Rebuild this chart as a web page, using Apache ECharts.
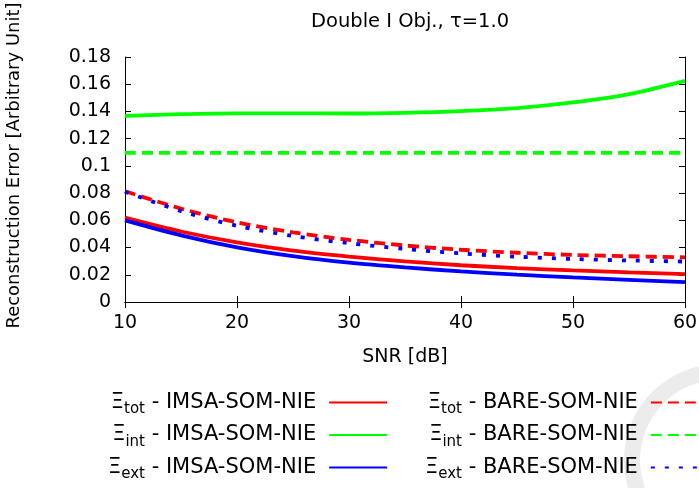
<!DOCTYPE html>
<html><head><meta charset="utf-8">
<script src="https://cdn.jsdelivr.net/npm/echarts@6/dist/echarts.min.js"></script>
<style>html,body{margin:0;padding:0;background:#fff}#c{width:699px;height:488px}</style>
</head><body><div id="c"></div>
<script>
// SNR [dB]
const snr = [10, 15, 20, 25, 30, 35, 40, 45, 50, 55, 60];
// Xi_tot / Xi_int / Xi_ext for IMSA-SOM-NIE
const totIMSA = [0.0620, 0.0518, 0.0438, 0.0378, 0.0334, 0.0298, 0.0270, 0.0249, 0.0232, 0.0218, 0.0205];
const intIMSA = [0.1368, 0.1380, 0.1386, 0.1386, 0.1385, 0.1390, 0.1402, 0.1424, 0.1466, 0.1527, 0.1625];
const extIMSA = [0.0600, 0.0490, 0.0402, 0.0337, 0.0289, 0.0254, 0.0225, 0.0201, 0.0181, 0.0163, 0.0146];
// Xi_tot / Xi_int / Xi_ext for BARE-SOM-NIE
const totBARE = [0.0814, 0.0686, 0.0585, 0.0512, 0.0457, 0.0415, 0.0384, 0.0362, 0.0346, 0.0336, 0.0328];
const intBARE = [0.1095, 0.1095, 0.1095, 0.1095, 0.1095, 0.1095, 0.1095, 0.1095, 0.1095, 0.1095, 0.1095];
const extBARE = [0.0810, 0.0668, 0.0560, 0.0485, 0.0432, 0.0390, 0.0357, 0.0333, 0.0316, 0.0305, 0.0297];
const yTicks = [0, 0.02, 0.04, 0.06, 0.08, 0.1, 0.12, 0.14, 0.16, 0.18];

const F = 'DejaVu Sans';
const pairs = v => snr.map((x, i) => [x, v[i]]);
const seriesDefs = [
  {key: 'tot-IMSA', sub: 'tot', meth: 'IMSA-SOM-NIE', data: totIMSA, color: '#ff0000', type: 'solid'},
  {key: 'int-IMSA', sub: 'int', meth: 'IMSA-SOM-NIE', data: intIMSA, color: '#00ff00', type: 'solid'},
  {key: 'ext-IMSA', sub: 'ext', meth: 'IMSA-SOM-NIE', data: extIMSA, color: '#0000ff', type: 'solid'},
  {key: 'tot-BARE', sub: 'tot', meth: 'BARE-SOM-NIE', data: totBARE, color: '#ff0000', type: [11, 6]},
  {key: 'int-BARE', sub: 'int', meth: 'BARE-SOM-NIE', data: intBARE, color: '#00ff00', type: [11, 6]},
  {key: 'ext-BARE', sub: 'ext', meth: 'BARE-SOM-NIE', data: extBARE, color: '#0000ff', type: [4, 10]}
];
const lookup = {};
seriesDefs.forEach(d => lookup[d.key] = d);
const fmt = name => '{m|Ξ}{s|' + lookup[name].sub + '}{m| - ' + lookup[name].meth + '}{g|}';
const rich = {
  m: {fontFamily: F, fontSize: 21, lineHeight: 22, color: '#000'},
  s: {fontFamily: F, fontSize: 15, lineHeight: 14, padding: [14, 0, 0, 0], color: '#000'},
  g: {width: 8}
};
const legendBase = {
  orient: 'vertical', align: 'right', itemWidth: 58, itemHeight: 14, itemGap: 3.5,
  padding: 0, selectedMode: false, formatter: fmt,
  itemStyle: {opacity: 0, borderWidth: 0}
};

const chart = echarts.init(document.getElementById('c'));
chart.setOption({
  animation: false,
  backgroundColor: '#ffffff',
  title: {
    text: 'Double I Obj., τ=1.0', left: 405, top: 7, textAlign: 'center',
    textStyle: {fontFamily: F, fontSize: 19.5, fontWeight: 'normal', color: '#000'}
  },
  grid: {left: 125, right: 14, top: 57, bottom: 186, containLabel: false, outerBoundsMode: 'none'},
  legend: [
    Object.assign({}, legendBase, {
      left: 108, top: 388, height: 100, data: seriesDefs.slice(0, 3).map(d => d.key),
      textStyle: {fontFamily: F, fontSize: 21, color: '#000', rich: rich}
    }),
    Object.assign({}, legendBase, {
      left: 425, top: 388, height: 100, data: seriesDefs.slice(3).map(d => d.key),
      textStyle: {fontFamily: F, fontSize: 21, color: '#000', rich: rich}
    })
  ],
  graphic: [{
    type: 'circle', z: -10, silent: true,
    shape: {cx: 720, cy: 460, r: 88},
    style: {fill: 'none', stroke: '#ececec', lineWidth: 16}
  }],
  xAxis: [{
    type: 'value', min: 10, max: 60, interval: 10,
    name: 'SNR [dB]', nameLocation: 'middle', nameGap: 46,
    nameTextStyle: {fontFamily: F, fontSize: 19, color: '#000'},
    axisLine: {show: true, lineStyle: {color: '#000', width: 1}},
    axisTick: {show: true, inside: true, length: 6, lineStyle: {color: '#000'}},
    axisLabel: {fontFamily: F, fontSize: 19, color: '#000', margin: 12},
    splitLine: {show: false}
  }, {
    type: 'value', min: 10, max: 60, interval: 10, position: 'top',
    axisLine: {show: true, lineStyle: {color: '#000', width: 1}},
    axisTick: {show: true, inside: true, length: 6, lineStyle: {color: '#000'}},
    axisLabel: {show: false}, splitLine: {show: false}
  }],
  yAxis: [{
    type: 'value', min: 0, max: 0.18, interval: 0.02,
    name: 'Reconstruction Error [Arbitrary Unit]', nameLocation: 'middle', nameGap: 102,
    nameTextStyle: {fontFamily: F, fontSize: 18, color: '#000', padding: [0, 0, 0, 28]},
    axisLine: {show: true, lineStyle: {color: '#000', width: 1}},
    axisTick: {show: true, inside: true, length: 6, lineStyle: {color: '#000'}},
    axisLabel: {fontFamily: F, fontSize: 19, color: '#000', margin: 14,
      formatter: v => { const t = yTicks.find(k => Math.abs(k - v) < 1e-9); return String(t !== undefined ? t : v); }},
    splitLine: {show: false}
  }, {
    type: 'value', min: 0, max: 0.18, interval: 0.02, position: 'right',
    axisLine: {show: true, lineStyle: {color: '#000', width: 1}},
    axisTick: {show: true, inside: true, length: 6, lineStyle: {color: '#000'}},
    axisLabel: {show: false}, splitLine: {show: false}
  }],
  series: seriesDefs.map(d => ({
    name: d.key, type: 'line', data: pairs(d.data), smooth: 0.3,
    showSymbol: false, symbol: 'none', xAxisIndex: 0, yAxisIndex: 0,
    lineStyle: {color: d.color, width: 3.8, type: d.type, cap: 'butt'},
    itemStyle: {color: d.color},
    emphasis: {disabled: true}, silent: true
  }))
});
</script>
</body></html>
